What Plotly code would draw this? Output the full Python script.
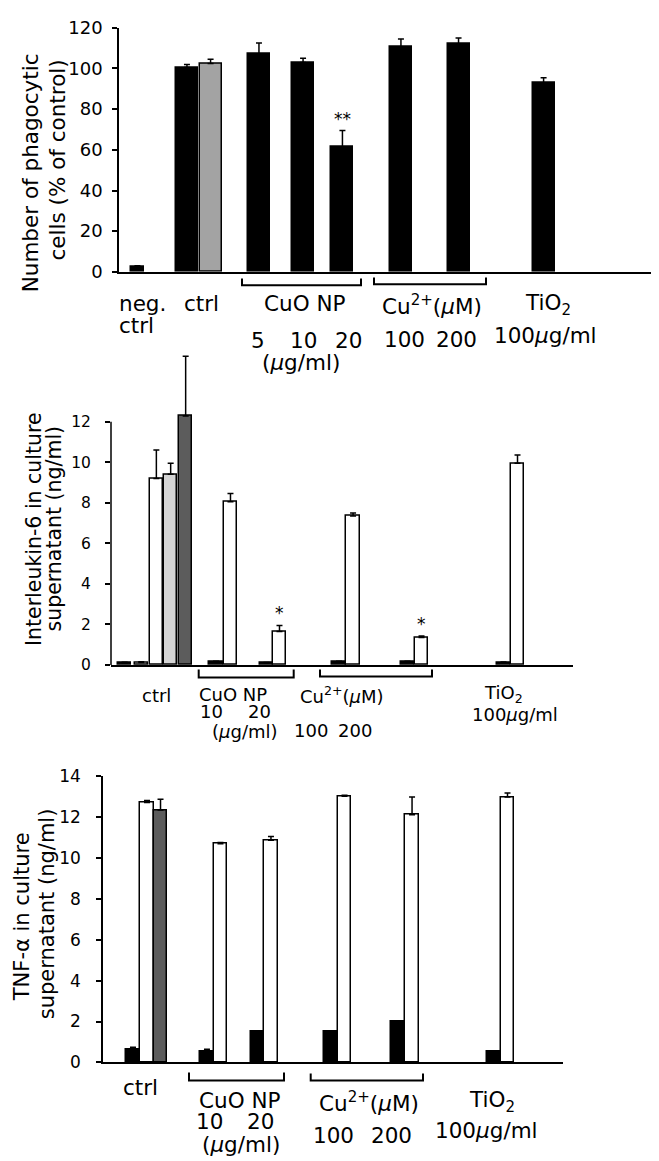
import plotly.graph_objects as go

W, H = 659, 1161
FONT = "DejaVu Sans, Liberation Sans, Arial, sans-serif"

# ---------------- Panel A: phagocytosis (% of control) ----------------
top_black_x = [0.82, 3.02, 6.22, 8.18, 9.93, 12.53, 15.09, 18.87]
top_black_y = [2.4, 100.5, 107.0, 103.0, 61.5, 110.5, 112.0, 93.0]
top_black_err = [0.6, 1.5, 5.5, 2.0, 8.0, 4.0, 3.0, 2.5]
top_black_w = [0.55, 0.98, 0.98, 0.98, 0.98, 0.98, 0.98, 0.98]
top_gray_x = [4.07]
top_gray_y = [102.5]
top_gray_err = [2.0]
top_ticks = [0, 20, 40, 60, 80, 100, 120]

# ---------------- Panel B: IL-6 (ng/ml) ----------------
mid_black_x = [1.01, 7.78, 11.52, 16.89, 21.96, 29.07]
mid_black_y = [0.10, 0.15, 0.10, 0.15, 0.15, 0.12]
mid_black_err = [0.03, 0.03, 0.02, 0.03, 0.03, 0.02]
mid_white_x = [2.24, 3.36, 8.85, 12.48, 17.93, 23.0, 30.11]
mid_white_y = [0.12, 9.2, 8.05, 1.65, 7.35, 1.35, 9.95]
mid_white_err = [0.04, 1.4, 0.4, 0.3, 0.15, 0.08, 0.4]
mid_lgray_x = [4.42]
mid_lgray_y = [9.4]
mid_lgray_err = [0.55]
mid_dgray_x = [5.53]
mid_dgray_y = [12.28]
mid_dgray_err = [2.95]
mid_ticks = [0, 2, 4, 6, 8, 10, 12]

# ---------------- Panel C: TNF-alpha (ng/ml) ----------------
bot_black_x = [2.22, 7.70, 11.44, 16.85, 21.85, 28.93]
bot_black_y = [0.64, 0.56, 1.52, 1.52, 2.02, 0.53]
bot_black_err = [0.1, 0.08, 0.0, 0.0, 0.0, 0.0]
bot_white_x = [3.26, 8.70, 12.44, 17.89, 22.89, 29.96]
bot_white_y = [12.72, 10.7, 10.88, 13.03, 12.12, 12.99]
bot_white_err = [0.1, 0.06, 0.18, 0.05, 0.87, 0.2]
bot_dgray_x = [4.26]
bot_dgray_y = [12.36]
bot_dgray_err = [0.52]
bot_ticks = [0, 2, 4, 6, 8, 10, 12, 14]


def px(x):
    return x / W


def py(y):
    return 1 - y / H


def bars(x, y, err, color, xa, ya, width=0.98):
    return go.Bar(
        x=x, y=y, width=width, xaxis=xa, yaxis=ya,
        marker=dict(color=color, line=dict(color="black", width=1.5)),
        error_y=dict(type="data", symmetric=False, array=err,
                     arrayminus=[0] * len(err), color="black",
                     thickness=1.5, width=3),
        cliponaxis=False, showlegend=False, hoverinfo="skip",
    )


fig = go.Figure()
fig.add_trace(bars(top_black_x, top_black_y, top_black_err, "black", "x", "y", top_black_w))
fig.add_trace(bars(top_gray_x, top_gray_y, top_gray_err, "#a3a3a3", "x", "y"))
fig.add_trace(bars(mid_black_x, mid_black_y, mid_black_err, "black", "x2", "y2"))
fig.add_trace(bars(mid_white_x, mid_white_y, mid_white_err, "white", "x2", "y2"))
fig.add_trace(bars(mid_lgray_x, mid_lgray_y, mid_lgray_err, "#d4d4d4", "x2", "y2"))
fig.add_trace(bars(mid_dgray_x, mid_dgray_y, mid_dgray_err, "#5c5c5c", "x2", "y2"))
fig.add_trace(bars(bot_black_x, bot_black_y, bot_black_err, "black", "x3", "y3"))
fig.add_trace(bars(bot_white_x, bot_white_y, bot_white_err, "white", "x3", "y3"))
fig.add_trace(bars(bot_dgray_x, bot_dgray_y, bot_dgray_err, "#5c5c5c", "x3", "y3"))

xcommon = dict(showline=True, linecolor="black", linewidth=1.5, ticks="",
               showticklabels=False, showgrid=False, zeroline=False, fixedrange=True)


def ycommon(size, standoff):
    return dict(ticks="outside", ticklen=5, tickwidth=1.5, tickcolor="black",
                showgrid=False, zeroline=False, linecolor="black", linewidth=1.5,
                ticklabelstandoff=standoff,
                tickfont=dict(family=FONT, size=size, color="black"), fixedrange=True)


fig.update_layout(
    width=W, height=H, margin=dict(l=0, r=0, t=0, b=0),
    paper_bgcolor="white", plot_bgcolor="white", bargap=0,
    font=dict(family=FONT, color="black"),
    xaxis=dict(domain=[px(111), px(658)], range=[0, 24.31], anchor="y", **xcommon),
    yaxis=dict(domain=[py(258.3), py(10)], range=[0, 120], tickvals=top_ticks,
               showline=True, anchor="x", **ycommon(18, 6)),
    xaxis2=dict(domain=[px(103), px(565)], range=[0, 34.22], anchor="y2", **xcommon),
    yaxis2=dict(domain=[py(658.3), py(338.5)], range=[0, 15.5], tickvals=mid_ticks,
                showline=False, anchor="x2", **ycommon(15.5, 11)),
    xaxis3=dict(domain=[px(95), px(555)], range=[0, 34.07], anchor="y3", **xcommon),
    yaxis3=dict(domain=[py(1062.7), py(771.7)], range=[0, 14], tickvals=bot_ticks,
                showline=True, anchor="x3", **ycommon(17, 12)),
)

# y axis line of IL-6 panel (only up to 12)
fig.add_shape(type="line", xref="x2 domain", yref="y2", x0=0, x1=0, y0=0, y1=12,
              line=dict(color="black", width=1.5))


def bracket(x0, x1, yh, yt):
    fig.add_shape(type="path", xref="paper", yref="paper",
                  path=f"M {px(x0)},{py(yt)} L {px(x0)},{py(yh)} L {px(x1)},{py(yh)} L {px(x1)},{py(yt)}",
                  line=dict(color="black", width=2))


bracket(234, 353, 272, 265)
bracket(366, 478, 271, 264)
bracket(190.7, 285.7, 671, 663)
bracket(312, 424, 670, 663)
bracket(181, 276, 1081, 1073)
bracket(302.7, 415, 1081, 1074)


def label(x, y, text, size, xanchor="center", angle=0):
    fig.add_annotation(x=px(x), y=py(y), xref="paper", yref="paper", text=text,
                       showarrow=False, xanchor=xanchor, yanchor="middle",
                       textangle=angle, font=dict(family=FONT, size=size, color="black"))


CU = "Cu<sup>2+</sup>(<i>μ</i>M)"
TIO = "TiO<sub>2</sub>"
UG = "(<i>μ</i>g/ml)"
TI_DOSE = "100<i>μ</i>g/ml"

# top labels
s = 21.5
label(109, 290, "neg.", s, "left")
label(109, 313, "ctrl", s, "left")
label(193, 290, "ctrl", s)
label(296, 290, "CuO NP", s)
label(250, 328, "5", s)
label(295, 328, "10", s)
label(340, 328, "20", s)
label(293, 351, UG, s)
label(424, 292, CU, s)
label(396, 327, "100", s)
label(448, 327, "200", s)
label(540, 292, TIO, s)
label(537, 323, TI_DOSE, s)

# middle labels
s = 18
label(148, 689, "ctrl", s)
label(225, 688, "CuO NP", s)
label(203, 706, "10", s)
label(251, 706, "20", s)
label(237, 726, UG, s)
label(334, 689, CU, s)
label(303, 725, "100", s)
label(347, 725, "200", s)
label(495, 688, TIO, s)
label(507, 709, TI_DOSE, s)

# bottom labels
s = 21.5
label(132, 1088, "ctrl", s)
label(231, 1101, "CuO NP", s)
label(201, 1123, "10", s)
label(252, 1123, "20", s)
label(233, 1146, UG, s)
label(361, 1103, CU, s)
label(325, 1137, "100", s)
label(383, 1137, "200", s)
label(484, 1102, TIO, s)
label(478, 1132, TI_DOSE, s)

# y titles
label(22, 158, "Number of phagocytic", 21.5, angle=-90)
label(50, 145, "cells (% of control)", 21.5, angle=-90)
label(26, 520, "Interleukin-6 in culture", 20.5, angle=-90)
label(46.5, 520, "supernatant (ng/ml)", 20.5, angle=-90)
label(14, 915, "TNF-α in culture", 21, angle=-90)
label(39, 912, "supernatant (ng/ml)", 21, angle=-90)


def star(xa, ya, x, y, text):
    fig.add_annotation(x=x, y=y, xref=xa, yref=ya, text=text, showarrow=False,
                       yanchor="bottom", yshift=0, font=dict(family=FONT, size=17, color="black"))


star("x", "y", top_black_x[4], top_black_y[4] + top_black_err[4], "**")
star("x2", "y2", mid_white_x[3], mid_white_y[3] + mid_white_err[3], "*")
star("x2", "y2", mid_white_x[5], mid_white_y[5] + mid_white_err[5], "*")

fig.write_html("out.html")
